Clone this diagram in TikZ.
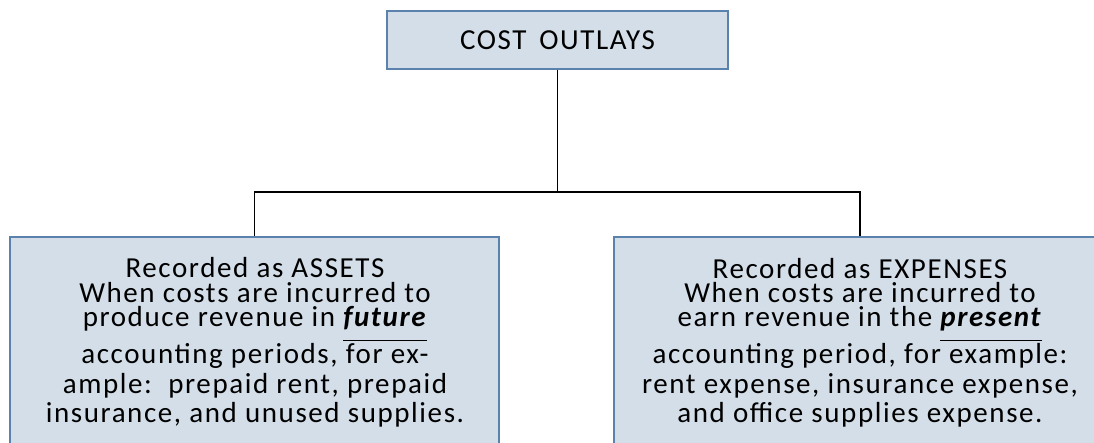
\documentclass[tikz,border=0pt]{standalone}
\usepackage{fontspec}
\setmainfont{Carlito}
\definecolor{boxfill}{RGB}{211,222,232}
\definecolor{boxline}{RGB}{91,130,173}
\newcommand{\ulword}[1]{\underline{\textbf{\textit{#1}}\rule[-12pt]{0pt}{0pt}}}
\begin{document}
\begin{tikzpicture}[x=1pt,y=1pt,
  boxstyle/.style={draw=boxline, fill=boxfill, line width=2pt, inner sep=0pt},
  txt/.style={anchor=base, inner sep=0pt, text height=17pt, text depth=2pt,
    font=\fontsize{29}{34}\selectfont\addfontfeatures{LetterSpace=5.5}},
  conn/.style={draw=black, line width=1.8pt}]
\useasboundingbox (0,0) rectangle (1094,-443);
\clip (0,0) rectangle (1094,-443);
% boxes
\node[boxstyle, minimum width=341pt, minimum height=58pt] (top) at (557.5,-40) {};
\node[boxstyle, minimum width=489pt, minimum height=240pt] (left) at (254.5,-357) {};
\node[boxstyle, minimum width=492pt, minimum height=240pt] (right) at (860,-357) {};
% connectors
\coordinate (j) at (557.5,-192);
\draw[conn] (top.south) -- (j);
\draw[conn] (left.north) |- (j) -| (right.north);
% top text
\node[txt] (t0) at (557.5,-50) {COST\ \,OUTLAYS};
% left text
\node[txt] (l1) at (255,-277.7) {Recorded as ASSETS};
\node[txt] (l2) at (255,-302.7) {When costs are incurred to};
\node[txt] (l3) at (255,-326.7) {produce revenue in \ulword{future}};
\node[txt] (l4) at (255,-363.3) {accounting periods, for ex-};
\node[txt] (l5) at (255,-393.3) {ample:\ \ prepaid rent, prepaid};
\node[txt] (l6) at (255,-422.7) {insurance, and unused supplies.};
% right text
\node[txt] (r1) at (860,-279) {Recorded as EXPENSES};
\node[txt] (r2) at (860,-302.7) {When costs are incurred to};
\node[txt] (r3) at (860,-326.7) {earn revenue in the \ulword{present}};
\node[txt] (r4) at (860,-363.3) {accounting period, for example:};
\node[txt] (r5) at (860,-393.3) {rent expense, insurance expense,};
\node[txt] (r6) at (860,-422.7) {and office supplies expense.};
\end{tikzpicture}
\end{document}
